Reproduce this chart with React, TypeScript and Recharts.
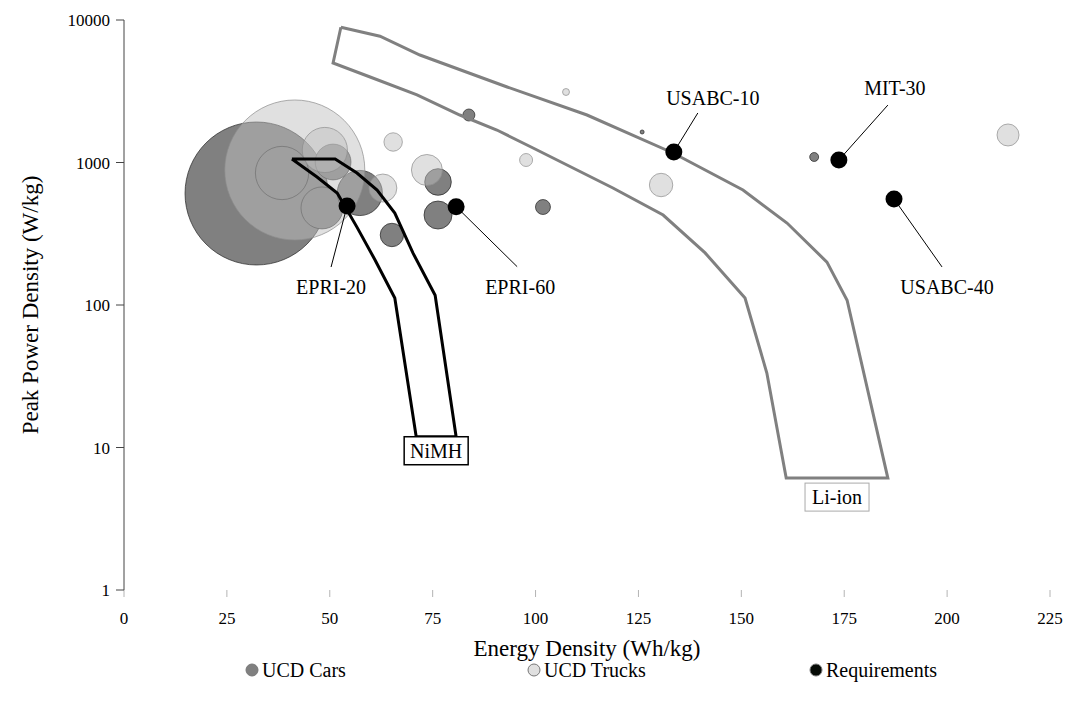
import React from 'react';
import {
    ScatterChart,
    Scatter,
    XAxis,
    YAxis,
    ZAxis,
    Legend,
    ReferenceDot
} from 'recharts';

const SERIF = '"Liberation Serif", "Times New Roman", serif';

const xTicks = [0, 25, 50, 75, 100, 125, 150, 175, 200, 225];
const yTicks = [1, 10, 100, 1000, 10000];

// x: energy density (Wh/kg), y: peak power density (W/kg), z: relative pack size
const ucdCars = [
    { x: 32.2, y: 606, z: 51.1 },
    { x: 38.4, y: 844, z: 7.1 },
    { x: 50.8, y: 1008, z: 3.2 },
    { x: 48.1, y: 480, z: 4.4 },
    { x: 57.3, y: 611, z: 5.1 },
    { x: 65.1, y: 310, z: 1.37 },
    { x: 76.3, y: 730, z: 1.77 },
    { x: 76.3, y: 428, z: 1.96 },
    { x: 101.8, y: 487, z: 0.56 },
    { x: 83.8, y: 2154, z: 0.36 },
    { x: 125.9, y: 1637, z: 0.04 },
    { x: 167.7, y: 1093, z: 0.2 }
];

const ucdTrucks = [
    { x: 41.5, y: 886, z: 49 },
    { x: 48.8, y: 1224, z: 5.1 },
    { x: 62.9, y: 662, z: 1.96 },
    { x: 65.4, y: 1393, z: 0.85 },
    { x: 73.6, y: 886, z: 2.4 },
    { x: 97.7, y: 1041, z: 0.42 },
    { x: 107.4, y: 3124, z: 0.12 },
    { x: 130.5, y: 695, z: 1.37 },
    { x: 214.8, y: 1560, z: 1.21 }
];

const requirements = [
    { name: 'EPRI-20', x: 54.2, y: 495 },
    { name: 'EPRI-60', x: 80.7, y: 490 },
    { name: 'USABC-10', x: 133.6, y: 1185 },
    { name: 'MIT-30', x: 173.7, y: 1040 },
    { name: 'USABC-40', x: 187.1, y: 555 }
];

// technology envelopes, traced clockwise and closed on the first point
const nimhOutline = [
    { x: 40.8, y: 1059 },
    { x: 51.3, y: 1059 },
    { x: 56.6, y: 844 },
    { x: 61.5, y: 641 },
    { x: 65.8, y: 442 },
    { x: 70.2, y: 232 },
    { x: 75.6, y: 117 },
    { x: 80.7, y: 11.9 },
    { x: 71.0, y: 11.9 },
    { x: 65.8, y: 112 },
    { x: 61.0, y: 207 },
    { x: 56.6, y: 352 },
    { x: 51.8, y: 611 },
    { x: 46.9, y: 791 },
    { x: 40.8, y: 1059 }
];

const liIonOutline = [
    { x: 52.7, y: 8900 },
    { x: 62.2, y: 7700 },
    { x: 71.9, y: 5680 },
    { x: 93.1, y: 3388 },
    { x: 112.5, y: 2154 },
    { x: 133.4, y: 1166 },
    { x: 150.4, y: 641 },
    { x: 161.1, y: 376 },
    { x: 170.8, y: 200 },
    { x: 175.7, y: 108 },
    { x: 185.6, y: 6.1 },
    { x: 160.9, y: 6.1 },
    { x: 156.2, y: 33.3 },
    { x: 150.9, y: 112 },
    { x: 141.2, y: 232 },
    { x: 131.0, y: 428 },
    { x: 118.8, y: 662 },
    { x: 99.4, y: 1264 },
    { x: 90.6, y: 1690 },
    { x: 81.6, y: 2154 },
    { x: 71.2, y: 2978 },
    { x: 59.8, y: 3981 },
    { x: 50.8, y: 4993 },
    { x: 52.7, y: 8900 }
];

const seriesNames = ['UCD Cars', 'UCD Trucks', 'Requirements'];

// leader line end (l) and label centre (t), relative to the dot
const callouts: Record<string, { lx: number; ly: number; tx: number; ty: number }> = {
    'EPRI-20': { lx: -16, ly: 61, tx: -16, ty: 81 },
    'EPRI-60': { lx: 61, ly: 60, tx: 64, ty: 80 },
    'USABC-10': { lx: 24, ly: -39, tx: 39, ty: -54 },
    'MIT-30': { lx: 49, ly: -55, tx: 56, ty: -72 },
    'USABC-40': { lx: 48, ly: 68, tx: 53, ty: 88 }
};

const legendColors = ['#808080', '#e0e0e0', '#050a05'];

const bottomMid = (pts: { x: number; y: number }[]) => {
    const low = Math.min(...pts.map((p) => p.y));
    const xs = pts.filter((p) => p.y === low).map((p) => p.x);
    return { x: (Math.min(...xs) + Math.max(...xs)) / 2, y: low };
};

const RequirementDot = (props: any) => {
    const { cx, cy, payload } = props;
    const c = callouts[payload.name];
    return (
        <g>
            <line x1={cx} y1={cy} x2={cx + c.lx} y2={cy + c.ly} stroke="#000" strokeWidth={1} />
            <circle cx={cx} cy={cy} r={8.5} fill="#000" />
            <text
                x={cx + c.tx}
                y={cy + c.ty}
                textAnchor="middle"
                dominantBaseline="central"
                fontSize={20}
                fontFamily={SERIF}
                fill="#000"
            >
                {payload.name}
            </text>
        </g>
    );
};

const TagBox = ({ cx, cy, text, stroke, strokeWidth, gap }: any) => (
    <g>
        <rect x={cx - 32} y={cy + gap} width={64} height={28} fill="#fff" stroke={stroke} strokeWidth={strokeWidth} />
        <text
            x={cx}
            y={cy + gap + 14}
            textAnchor="middle"
            dominantBaseline="central"
            fontSize={20}
            fontFamily={SERIF}
            fill="#000"
        >
            {text}
        </text>
    </g>
);

const YTitle = ({ viewBox }: any) => {
    const x = viewBox.x + 22;
    const y = viewBox.y + viewBox.height / 2;
    return (
        <text
            x={x}
            y={y}
            transform={`rotate(-90 ${x} ${y})`}
            textAnchor="middle"
            dominantBaseline="central"
            fontSize={23}
            fontFamily={SERIF}
            fill="#000"
        >
            Peak Power Density (W/kg)
        </text>
    );
};

const XTitle = ({ viewBox }: any) => (
    <text
        x={viewBox.x + viewBox.width / 2}
        y={viewBox.y + 58}
        textAnchor="middle"
        dominantBaseline="central"
        fontSize={23}
        fontFamily={SERIF}
        fill="#000"
    >
        Energy Density (Wh/kg)
    </text>
);

// legend drawn as svg so it uses the same serif face as the axes
const LegendRow = () => (
    <svg width={1059} height={24} style={{ display: 'block' }}>
        {seriesNames.map((name, i) => {
            const x = 244 + i * 282;
            return (
                <g key={name}>
                    <circle cx={x} cy={12} r={6} fill={legendColors[i]} stroke="#777" strokeWidth={1} />
                    <text
                        x={x + 10}
                        y={12}
                        dominantBaseline="central"
                        fontSize={20}
                        fontFamily={SERIF}
                        fill="#000"
                    >
                        {name}
                    </text>
                </g>
            );
        })}
    </svg>
);

const tickStyle = { fontSize: 17, fontFamily: SERIF, fill: '#000' };

export default function App() {
    const nimhTag = bottomMid(nimhOutline);
    const liTag = bottomMid(liIonOutline);

    return (
        <ScatterChart
            width={1059}
            height={693}
            margin={{ top: 12, right: 17, left: 0, bottom: 19 }}
            style={{ fontFamily: SERIF }}
        >
            <XAxis
                type="number"
                dataKey="x"
                domain={[0, 225]}
                ticks={xTicks}
                axisLine={false}
                tickLine={{ stroke: '#b4b4b4' }}
                tickSize={7}
                tickMargin={15}
                tick={tickStyle}
                height={68}
                label={<XTitle />}
            />
            <YAxis
                type="number"
                dataKey="y"
                scale="log"
                domain={[1, 10000]}
                ticks={yTicks}
                allowDataOverflow
                axisLine={{ stroke: '#444' }}
                tickLine={{ stroke: '#444' }}
                tickSize={8}
                tickMargin={6}
                tick={tickStyle}
                width={116}
                label={<YTitle />}
            />
            <ZAxis type="number" dataKey="z" domain={[0, 100]} range={[0, 31416]} />
            <Legend verticalAlign="bottom" content={<LegendRow />} />

            <Scatter
                name="UCD Cars"
                data={ucdCars}
                fill="#808080"
                stroke="#222"
                strokeWidth={0.7}
                isAnimationActive={false}
            />
            <Scatter
                name="UCD Trucks"
                data={ucdTrucks}
                fill="#bfbfbf"
                fillOpacity={0.49}
                stroke="#8c8c8c"
                strokeWidth={0.7}
                isAnimationActive={false}
            />
            <Scatter
                name="Li-ion"
                data={liIonOutline}
                line={{ stroke: '#808080', strokeWidth: 3 }}
                shape={() => <g />}
                legendType="none"
                isAnimationActive={false}
            />
            <Scatter
                name="NiMH"
                data={nimhOutline}
                line={{ stroke: '#000', strokeWidth: 3 }}
                shape={() => <g />}
                legendType="none"
                isAnimationActive={false}
            />
            <Scatter
                name="Requirements"
                data={requirements}
                fill="#000"
                shape={<RequirementDot />}
                isAnimationActive={false}
            />

            <ReferenceDot
                x={nimhTag.x}
                y={nimhTag.y}
                shape={(p: any) => <TagBox {...p} text="NiMH" stroke="#000" strokeWidth={1.5} gap={0} />}
            />
            <ReferenceDot
                x={liTag.x}
                y={liTag.y}
                shape={(p: any) => <TagBox {...p} text="Li-ion" stroke="#aaa" strokeWidth={1} gap={5} />}
            />
        </ScatterChart>
    );
}
